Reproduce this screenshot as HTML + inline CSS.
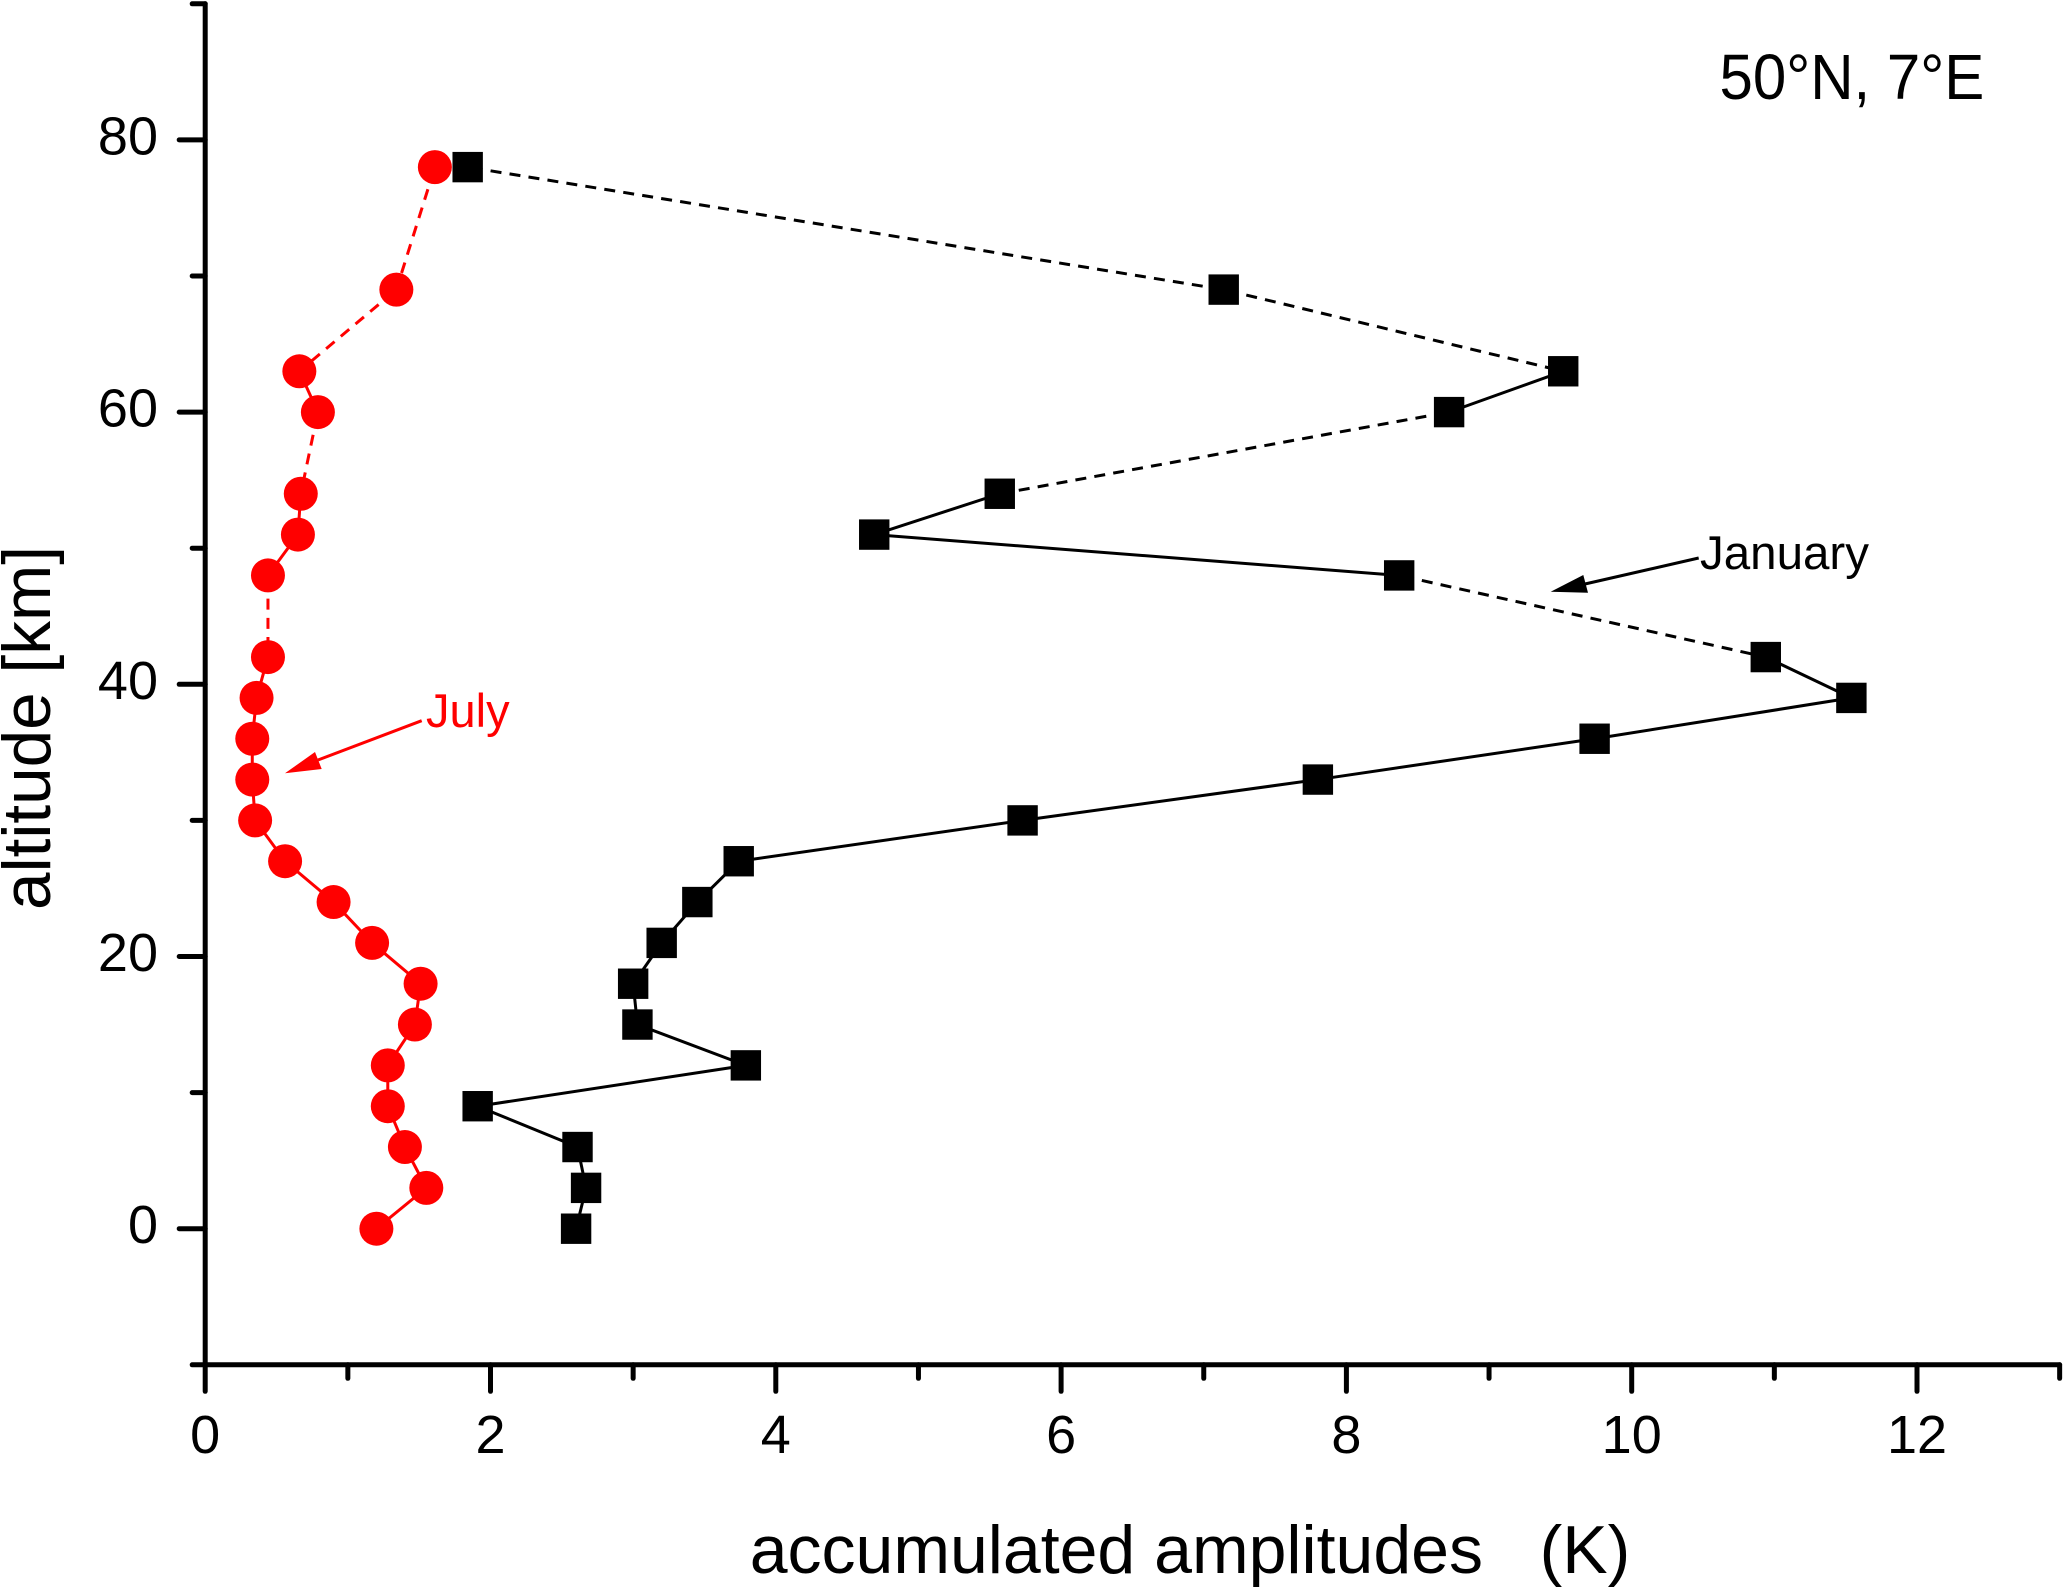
<!DOCTYPE html>
<html lang="en">
<head>
<meta charset="utf-8">
<title>Accumulated amplitudes vs altitude</title>
<style>
html,body{margin:0;padding:0;background:#fff;}
svg{display:block;}
text{font-family:"Liberation Sans",sans-serif;white-space:pre;}
</style>
</head>
<body>
<svg id="chart" xmlns="http://www.w3.org/2000/svg" width="2067" height="1588" viewBox="0 0 2067 1588">
  <rect width="2067" height="1588" fill="#fff"></rect>
  <g id="axes"></g>
  <g id="series"></g>
  <text transform="translate(1719.5,99) scale(1,1.06)" font-size="60" fill="#000">50°N, 7°E</text>
  <text x="1190" y="1573" font-size="68" fill="#000" text-anchor="middle" xml:space="preserve">accumulated amplitudes   (K)</text>
  <text transform="translate(50,728) rotate(-90)" font-size="67.5" fill="#000" text-anchor="middle">altitude [km]</text>
  <g>
    <text x="1700" y="569" font-size="47.5" fill="#000">January</text>
    <line x1="1698.7" y1="558" x2="1585" y2="584" stroke="#000" stroke-width="3"></line>
    <polygon points="1550.7,591.7 1583.3,575 1588,592.7" fill="#000"></polygon>
  </g>
  <g>
    <text x="426" y="727" font-size="47" fill="#f00">July</text>
    <line x1="421.7" y1="720.7" x2="318" y2="760" stroke="#f00" stroke-width="3"></line>
    <polygon points="285,773.3 315,752 321.7,769" fill="#f00"></polygon>
  </g>
</svg>
<script>
const altitudes = [0, 3, 6, 9, 12, 15, 18, 21, 24, 27, 30, 33, 36, 39, 42, 48, 51, 54, 60, 63, 69, 78];
const julyAmplitudes = [1.20, 1.55, 1.40, 1.28, 1.28, 1.47, 1.51, 1.17, 0.90, 0.56, 0.35, 0.33, 0.33, 0.36, 0.44, 0.44, 0.65, 0.67, 0.79, 0.66, 1.34, 1.61];
const januaryAmplitudes = [2.60, 2.67, 2.61, 1.91, 3.79, 3.03, 3.00, 3.20, 3.45, 3.74, 5.73, 7.80, 9.74, 11.54, 10.94, 8.37, 4.69, 5.57, 8.72, 9.52, 7.14, 1.84];
const xMajorTicks = [0, 2, 4, 6, 8, 10, 12];
const xMinorTicks = [1, 3, 5, 7, 9, 11, 13];
const yMajorTicks = [0, 20, 40, 60, 80];
const yMinorTicks = [-10, 10, 30, 50, 70, 90];

const SVG_NS = 'http://www.w3.org/2000/svg';
const X0 = 205.2, X_SCALE = 142.65;
const Y0 = 1228.7, Y_SCALE = 13.61;
function xPos(v) { return X0 + X_SCALE * v; }
function yPos(v) { return Y0 - Y_SCALE * v; }

function make(tag, attrs, parent) {
  const el = document.createElementNS(SVG_NS, tag);
  for (const k in attrs) el.setAttribute(k, attrs[k]);
  parent.appendChild(el);
  return el;
}

const axes = document.getElementById('axes');
const seriesRoot = document.getElementById('series');
const axisStyle = { stroke: '#000', 'stroke-linecap': 'round', 'stroke-width': 5 };

const yAxis = make('line', Object.assign({ x1: X0, x2: X0, y1: yPos(90), y2: yPos(-10) }, axisStyle), axes);



const xAxis = make('line', Object.assign({ x1: xPos(0), x2: xPos(13), y1: yPos(-10), y2: yPos(-10) }, axisStyle), axes);



yMajorTicks.forEach(function (v) {
  const tick = make('line', Object.assign({ x1: X0 - 26, x2: X0, y1: yPos(v), y2: yPos(v) }, axisStyle), axes);
  
  
  const label = make('text', { x: 158, y: yPos(v) + 14.5, 'font-size': 54, 'text-anchor': 'end', fill: '#000' }, axes);
  label.textContent = String(v);
  
  
});

yMinorTicks.forEach(function (v) {
  const tick = make('line', Object.assign({ x1: X0 - 13, x2: X0, y1: yPos(v), y2: yPos(v) }, axisStyle), axes);
  
  
});

xMajorTicks.forEach(function (v) {
  const tick = make('line', Object.assign({ x1: xPos(v), x2: xPos(v), y1: yPos(-10), y2: yPos(-10) + 26.5 }, axisStyle), axes);
  
  
  const label = make('text', { x: xPos(v), y: 1453, 'font-size': 54, 'text-anchor': 'middle', fill: '#000' }, axes);
  label.textContent = String(v);
  
  
});

xMinorTicks.forEach(function (v) {
  const tick = make('line', Object.assign({ x1: xPos(v), x2: xPos(v), y1: yPos(-10), y2: yPos(-10) + 13.5 }, axisStyle), axes);
  
  
});

/* Segments spanning a data gap (more than one 3 km step) are dashed. */
function drawLines(values, colour, parent) {
  for (let i = values.length - 1; i > 0; i--) {
    const gap = altitudes[i] - altitudes[i - 1];
    const seg = make('line', {
      x1: xPos(values[i]), y1: yPos(altitudes[i]),
      x2: xPos(values[i - 1]), y2: yPos(altitudes[i - 1]),
      stroke: colour, 'stroke-width': 3
    }, parent);
    if (gap > 3) {
      seg.setAttribute('stroke-dasharray', '11 8.2');
      seg.setAttribute('stroke-dashoffset', '-4');
    }
    
    
  }
}

const januaryGroup = make('g', {}, seriesRoot);


drawLines(januaryAmplitudes, '#000', januaryGroup);
januaryAmplitudes.forEach(function (v, i) {
  const s = make('rect', { x: xPos(v) - 15.2, y: yPos(altitudes[i]) - 15.2, width: 30.4, height: 30.4, fill: '#000' }, januaryGroup);
  
  
});

const julyGroup = make('g', {}, seriesRoot);


drawLines(julyAmplitudes, '#f00', julyGroup);
julyAmplitudes.forEach(function (v, i) {
  const c = make('circle', { cx: xPos(v), cy: yPos(altitudes[i]), r: 17, fill: '#f00' }, julyGroup);
  
  
});
</script>
</body>
</html>
